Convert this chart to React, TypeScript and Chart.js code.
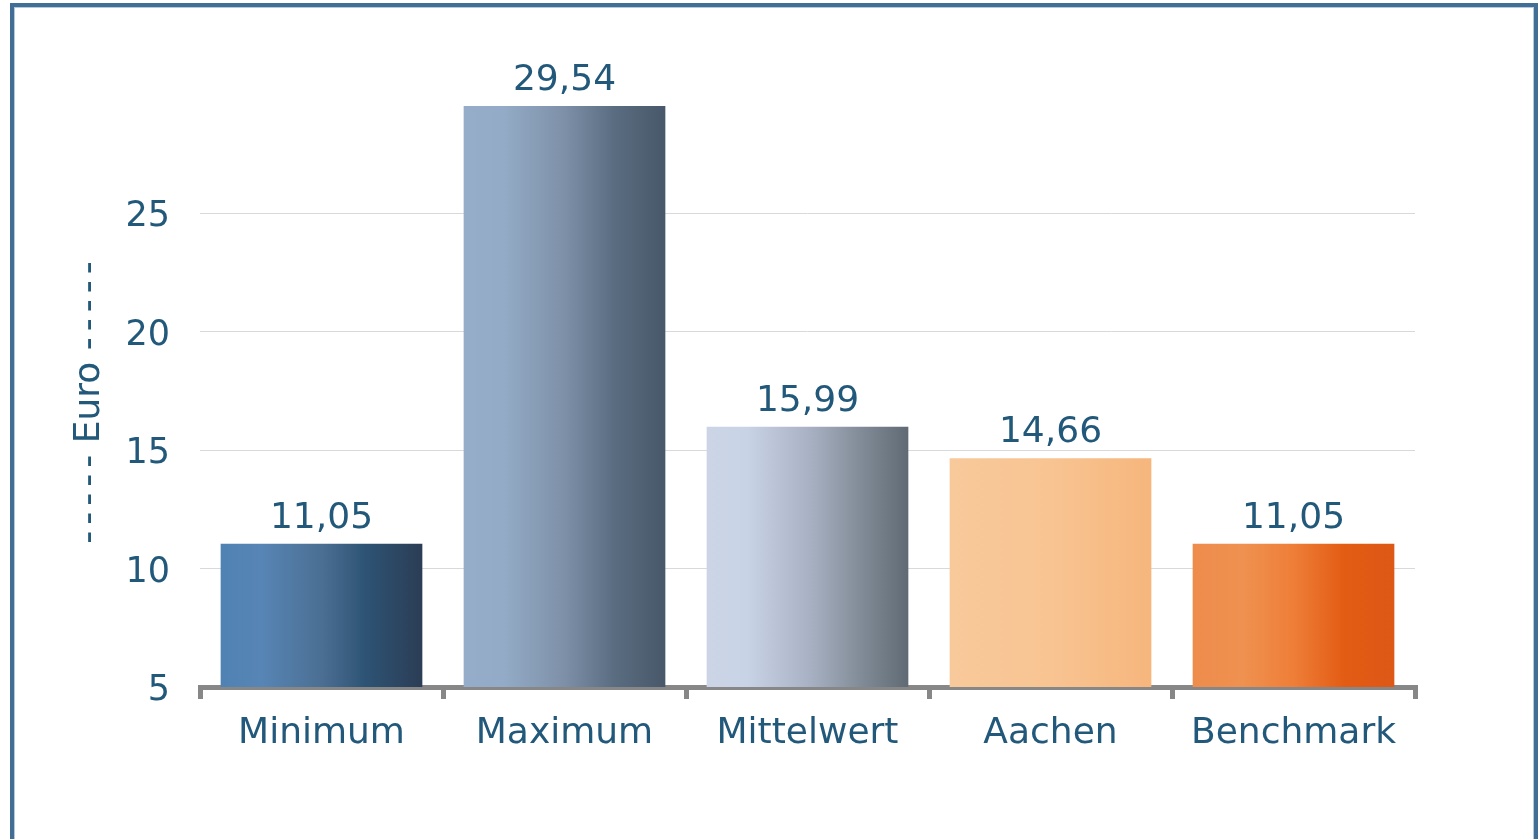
import React, { useEffect, useRef } from "react";
import { Chart, registerables } from "chart.js";

Chart.register(...registerables);

const categories = ["Minimum", "Maximum", "Mittelwert", "Aachen", "Benchmark"];
const values = [11.05, 29.54, 15.99, 14.66, 11.05];
const valueLabels = ["11,05", "29,54", "15,99", "14,66", "11,05"];
const yTicks = [5, 10, 15, 20, 25];
const axisTitle =
  "-\u2006-\u2006-\u2006-\u2006- Euro -\u2006-\u2006-\u2006-\u2006-  ";

const gradientStops: [number, string][][] = [
  [[0, "#4f82b3"], [0.2, "#5785b5"], [0.5, "#4b6f93"], [0.72, "#2d5374"], [1, "#2c3d55"]],
  [[0, "#95adc9"], [0.2, "#93abc6"], [0.5, "#7e90a8"], [0.75, "#5a6c80"], [1, "#48586a"]],
  [[0, "#cbd5e6"], [0.2, "#c8d3e5"], [0.5, "#aab3c5"], [0.75, "#848e9a"], [1, "#5f6a74"]],
  [[0, "#f8c99b"], [0.5, "#f8c492"], [1, "#f6b67c"]],
  [[0, "#ee8c4c"], [0.25, "#ef9150"], [0.5, "#ee7e38"], [0.75, "#e35c14"], [1, "#dd5816"]],
];

const TEXT = "#22597b";
const FONT = "'DejaVu Sans', Verdana, sans-serif";
const BAR_PCT = 0.83;

const valueLabelPlugin = {
  id: "valueLabels",
  afterDatasetsDraw(chart: any) {
    const ctx = chart.ctx;
    const meta = chart.getDatasetMeta(0);
    ctx.save();
    ctx.fillStyle = TEXT;
    ctx.font = `36px ${FONT}`;
    ctx.textAlign = "center";
    ctx.textBaseline = "alphabetic";
    meta.data.forEach((bar: any, i: number) => {
      ctx.fillText(valueLabels[i], bar.x, bar.y - 16);
    });
    ctx.restore();
  },
};

export default function App() {
  const ref = useRef<HTMLCanvasElement>(null);
  useEffect(() => {
    if (!ref.current) return;
    const chart = new Chart(ref.current, {
      type: "bar",
      data: {
        labels: categories,
        datasets: [
          {
            data: values,
            backgroundColor: (c: any) => {
              const ch = c.chart;
              const xs = ch.scales?.x;
              if (!xs || c.dataIndex === undefined) return "#888";
              const center = xs.getPixelForValue(c.dataIndex);
              const half = (xs.width / categories.length) * BAR_PCT / 2;
              if (!isFinite(center) || !isFinite(half) || half <= 0) return "#888";
              const g = ch.ctx.createLinearGradient(center - half, 0, center + half, 0);
              gradientStops[c.dataIndex].forEach(([o, col]) => g.addColorStop(o, col));
              return g;
            },
            borderWidth: 0,
            categoryPercentage: 1,
            barPercentage: BAR_PCT,
          },
        ],
      },
      options: {
        animation: false,
        responsive: false,
        maintainAspectRatio: false,
        layout: { padding: { top: 95, right: 125, left: 0, bottom: 0 } },
        plugins: { legend: { display: false }, tooltip: { enabled: false } },
        scales: {
          x: {
            offset: true,
            grid: {
              display: true,
              drawOnChartArea: false,
              offset: true,
              tickLength: 12,
              lineWidth: 5,
              color: "#878787",
            },
            border: { display: true, color: "#878787", width: 5 },
            ticks: { color: TEXT, font: { family: FONT, size: 36 }, padding: 13 },
            afterFit: (s: any) => {
              s.height = 152;
            },
          },
          y: {
            min: 5,
            max: 30,
            afterBuildTicks: (s: any) => {
              s.ticks = yTicks.map((v) => ({ value: v }));
            },
            grid: { color: "#d9d9d9", lineWidth: 1, drawTicks: false },
            border: { display: false },
            ticks: { color: TEXT, font: { family: FONT, size: 35 }, padding: 30, labelOffset: 4 },
            title: {
              display: true,
              text: axisTitle,
              color: TEXT,
              font: { family: FONT, size: 36 },
              padding: { top: 68, bottom: 0 },
            },
            afterFit: (s: any) => {
              s.width = 200;
            },
          },
        },
      },
      plugins: [valueLabelPlugin],
    });
    return () => chart.destroy();
  }, []);

  return (
    <div style={{ position: "fixed", left: 0, top: 0, width: 1540, height: 839, background: "#fff", overflow: "hidden" }}>
      <canvas ref={ref} width={1540} height={839} style={{ position: "absolute", left: 0, top: 0 }} />
      <div
        style={{
          position: "absolute",
          left: 10,
          top: 3,
          width: 1528,
          height: 900,
          boxSizing: "border-box",
          border: "4px solid #426e96",
          boxShadow: "inset 0 0 0 1px #b3cade",
          pointerEvents: "none",
        }}
      />
    </div>
  );
}
